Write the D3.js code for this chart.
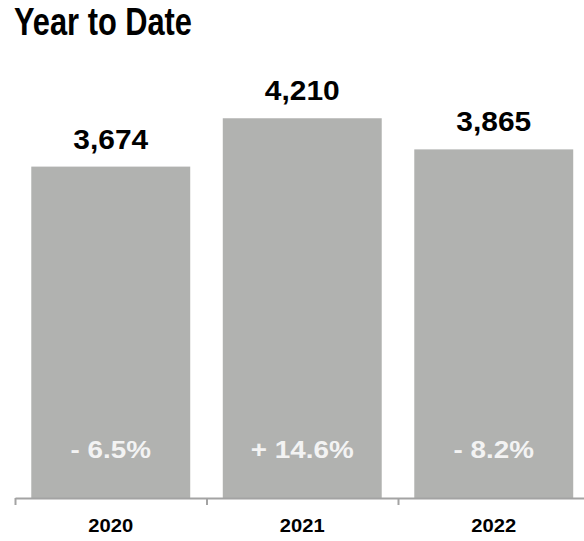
<html>
<script src='https://d3js.org/d3.v7.min.js'></script>
<style>
  body {margin: 0; background: white;}
  text {font-family: 'Liberation Sans', Arial, sans-serif; font-weight: bold;}
</style>
<body>
<svg width=584 height=541></svg>

<script>
// chart data
var years = ['2020', '2021', '2022'];
var totals = [3674, 4210, 3865];
var changes = ['- 6.5%', '+ 14.6%', '- 8.2%'];

var svg = d3.select('svg');

// scales
var x = d3.scaleBand().domain(years).range([15, 589.5])
    .paddingInner(0.17).paddingOuter(0.085);
var y = d3.scaleLinear().domain([0, 5000]).range([498, 47]);

// text helper: centred text, a little wider than the font draws it
function label(px, py, str, size, color, sx) {
    svg.append('text')
      .attr('transform', 'translate(' + px + ',' + py + ') scale(' + sx + ',1)')
      .attr('text-anchor', 'middle')
      .style('font-size', size + 'px')
      .style('fill', color)
      .text(str);
}

// title
svg.append('text')
  .attr('x', 14).attr('y', 35)
  .attr('textLength', 178).attr('lengthAdjust', 'spacingAndGlyphs')
  .style('font-size', '38px').style('fill', '#000')
  .text('Year to Date');

// bars
svg.selectAll('rect.bar')
  .data(years)
  .enter()
  .append('rect')
  .attr('class', 'bar')
  .attr('x', function(d) { return x(d); })
  .attr('width', x.bandwidth())
  .attr('y', function(d, i) { return y(totals[i]); })
  .attr('height', function(d, i) { return y(0) - y(totals[i]); })
  .style('fill', '#b1b2b0');

// axis with ticks between the bands
var edges = d3.scaleLinear().domain([0, years.length]).range(x.range());
var axis = svg.append('g')
  .attr('transform', 'translate(0,' + y(0) + ')')
  .call(d3.axisBottom(edges).tickValues(d3.range(years.length + 1))
        .tickSize(7).tickSizeOuter(0).tickFormat(''));
axis.select('.domain').style('stroke', '#a3a3a3').style('stroke-width', 2);
axis.selectAll('.tick line').style('stroke', '#a3a3a3').style('stroke-width', 2);

years.forEach(function(d, i) {
    var cx = x(d) + x.bandwidth() / 2;
    label(cx, y(totals[i]) - 18, d3.format(',')(totals[i]), 28, '#000', 1.07);
    label(cx, y(0) - 40, changes[i], 24, '#f3f3f3', 1.16);
    label(cx, 532, d, 18, '#000', 1.12);
});
</script>
</body>
</html>
